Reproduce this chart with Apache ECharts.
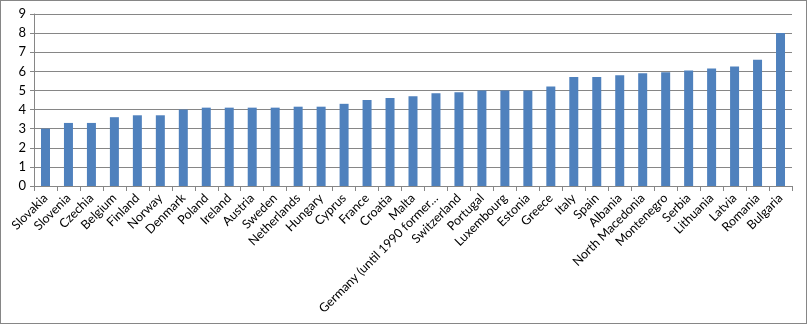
<!DOCTYPE html>
<html>
<head>
<meta charset="utf-8">
<script src="https://cdn.jsdelivr.net/npm/echarts@6/dist/echarts.min.js"></script>
<style>
html,body{margin:0;padding:0;background:#fff;}
#wrap{width:807px;height:324px;box-sizing:border-box;border:1px solid #868686;}
#chart{width:805px;height:322px;}
</style>
</head>
<body>
<div id="wrap"><div id="chart"></div></div>
<script>
const categories = ["Slovakia","Slovenia","Czechia","Belgium","Finland","Norway","Denmark","Poland","Ireland","Austria","Sweden","Netherlands","Hungary","Cyprus","France","Croatia","Malta","Germany (until 1990 former…","Switzerland","Portugal","Luxembourg","Estonia","Greece","Italy","Spain","Albania","North Macedonia","Montenegro","Serbia","Lithuania","Latvia","Romania","Bulgaria"];
const values = [3.0,3.3,3.3,3.6,3.7,3.7,4.0,4.1,4.1,4.1,4.1,4.15,4.15,4.3,4.5,4.6,4.7,4.85,4.9,5.0,5.0,5.0,5.2,5.7,5.7,5.8,5.9,5.95,6.05,6.15,6.25,6.6,8.0];
const yTicks = {min:0, max:9, interval:1};

const chart = echarts.init(document.getElementById('chart'));
chart.setOption({
  animation:false,
  grid:{left:33, right:14, top:13, bottom:137, containLabel:false},
  xAxis:{
    type:'category',
    data:categories,
    axisLine:{lineStyle:{color:'#868686',width:1}},
    axisTick:{show:true,length:5,lineStyle:{color:'#868686'}},
    axisLabel:{rotate:45,interval:0,color:'#000',fontFamily:'Lato',fontSize:12.5,margin:10}
  },
  yAxis:{
    type:'value',
    min:yTicks.min,max:yTicks.max,interval:yTicks.interval,
    axisLine:{show:true,lineStyle:{color:'#868686'}},
    axisTick:{show:true,length:4,lineStyle:{color:'#868686'}},
    axisLabel:{color:'#000',fontFamily:'Lato',fontSize:13,margin:8},
    splitLine:{show:true,lineStyle:{color:'#868686',width:1}}
  },
  series:[{
    type:'bar',
    data:values,
    barWidth:9,
    itemStyle:{color:'#4f81bd'}
  }]
});
</script>
</body>
</html>
